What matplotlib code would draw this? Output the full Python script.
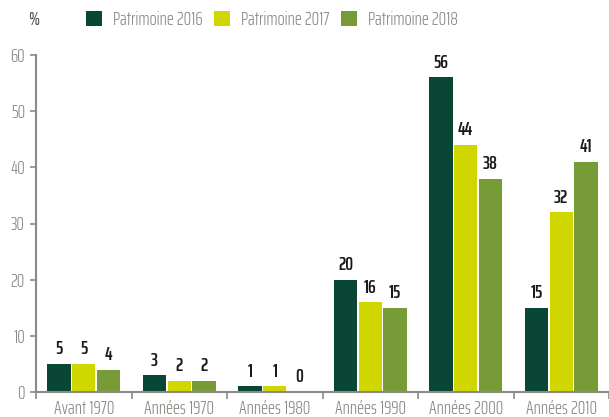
import matplotlib.pyplot as plt
import numpy as np

categories = ['Avant 1970', 'Années 1970', 'Années 1980', 'Années 1990', 'Années 2000', 'Années 2010']
series = ['Patrimoine 2016', 'Patrimoine 2017', 'Patrimoine 2018']
values = [
    [5, 3, 1, 20, 56, 15],
    [5, 2, 1, 16, 44, 32],
    [4, 2, 0, 15, 38, 41],
]
colors = ['#0a4636', '#cfd600', '#779c37']
gray = '#8c8a84'

plt.rcParams['font.family'] = ['Saira ExtraCondensed', 'DejaVu Sans']

fig = plt.figure(figsize=(6.09, 4.17), dpi=100)
ax = fig.add_axes([36 / 609, 25 / 417, 573 / 609, 337 / 417])

x = np.arange(len(categories))
width = 0.245
step = 0.258
for i, (vals, c, name) in enumerate(zip(values, colors, series)):
    pos = x + (i - 1) * step
    bars = ax.bar(pos, vals, width, color=c, label=name)
    for b, v in zip(bars, vals):
        ax.text(b.get_x() + b.get_width() / 2, v + 1.0, str(v), ha='center', va='bottom',
                fontsize=14, fontweight=600, color='#1a1a1a')

ax.set_xlim(-0.5, -0.5 + 573 / 97)
ax.set_ylim(0, 60)
ax.set_yticks(range(0, 61, 10))
ax.set_xticks(x)
ax.set_xticklabels(categories)
ax.set_xticks(np.arange(-0.5, 6, 1), minor=True)

for s in ['top', 'right']:
    ax.spines[s].set_visible(False)
for s in ['left', 'bottom']:
    ax.spines[s].set_color(gray)
    ax.spines[s].set_linewidth(1.5)

ax.tick_params(axis='x', which='major', length=0, pad=6, labelsize=13.5, labelcolor=gray)
ax.tick_params(axis='x', which='minor', length=5, width=1.2, color=gray, direction='out')
ax.tick_params(axis='y', length=4, width=1.2, color=gray, labelsize=13.5, labelcolor=gray, pad=4)
for t in ax.get_xticklabels() + ax.get_yticklabels():
    t.set_fontweight(300)

fig.text(28 / 609, 1 - 20 / 417, '%', fontsize=13.5, fontweight=500, color='#555555', ha='left', va='center')
leg = fig.legend(loc='center left', bbox_to_anchor=(86 / 609, 1 - 20 / 417), ncol=3, frameon=False,
                 handlelength=0.85, handleheight=0.85, handletextpad=0.6, columnspacing=0.6,
                 fontsize=13.5, labelcolor=gray, borderaxespad=0, borderpad=0)
for t in leg.get_texts():
    t.set_fontweight(300)

fig.savefig('out.png', dpi=100)
